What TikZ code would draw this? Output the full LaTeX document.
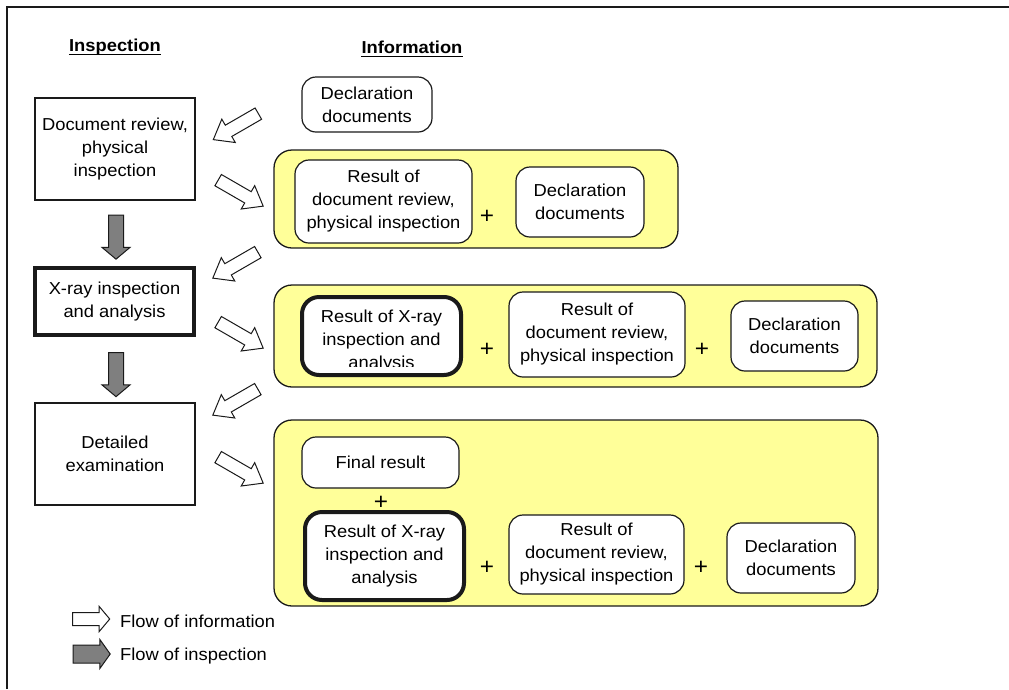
\documentclass[tikz,border=0pt]{standalone}
\usepackage{fontspec}
\setmainfont{Liberation Sans}[FakeStretch=1.06]
\usetikzlibrary{shapes.arrows}

\definecolor{yellowfill}{HTML}{FFFF99}
\definecolor{flowgray}{HTML}{7F7F7F}
\definecolor{linecol}{HTML}{1A1A1A}

% shaft thickness of a block arrow is set by an empty rule of that height
\newcommand{\shaft}[1]{\rule{0pt}{#1}}

\tikzset{
  txt/.style={font=\fontsize{17.3}{23}\selectfont, align=center},
  box/.style={draw=linecol, line width=1.2pt, fill=white, inner sep=0pt, txt},
  rbox/.style={box, rounded corners=14pt},
  heavybox/.style={box, line width=4pt},
  heavyrbox/.style={heavybox, rounded corners=17pt},
  group/.style={draw=linecol, line width=1.3pt, fill=yellowfill, rounded corners=18pt, inner sep=0pt},
  plus/.style={font=\fontsize{23}{23}\selectfont, inner sep=0pt},
  title/.style={font=\fontsize{17.3}{20}\selectfont\bfseries, inner sep=0pt},
  blockarrow/.style={single arrow, draw=linecol, line width=1pt, inner sep=0pt, outer sep=0pt},
  infoarrow/.style={blockarrow, fill=white,
    minimum height=52pt, single arrow head extend=7pt, single arrow tip angle=75},
  flowarrow/.style={blockarrow, fill=flowgray,
    minimum height=44pt, single arrow head extend=6.5pt, single arrow tip angle=100},
}

\begin{document}
\begin{tikzpicture}[x=1pt, y=-1pt]
\useasboundingbox (0,0) rectangle (1009,689);

% frame
\draw[line width=1.5pt, linecol] (7,689) -- (7,7) -- (1009,7);

% column titles
\node[title] (tInsp) at (115,47) {Inspection};
\node[title] (tInfo) at (412,47) {Information};
\draw[line width=1.3pt] ([yshift=-3pt]tInsp.base west) -- ([yshift=-3pt]tInsp.base east);
\draw[line width=1.3pt] ([yshift=-3pt]tInfo.base west) -- ([yshift=-3pt]tInfo.base east);

% inspection column
\node[box, minimum width=160pt, minimum height=102pt] (insp1) at (115,149)
  {Document review,\\physical\\inspection};
\node[heavybox, minimum width=159pt, minimum height=67pt] (insp2) at (114.5,301.5)
  {X-ray inspection\\and analysis};
\node[box, minimum width=160pt, minimum height=102pt] (insp3) at (115,454)
  {Detailed\\examination};

\node[flowarrow, rotate=-90] (fa1) at (116,234) {\shaft{14pt}};
\node[flowarrow, rotate=-90] (fa2) at (116,371.5) {\shaft{14pt}};

% information flow arrows
\node[infoarrow, rotate=210] (ia1) at (239.5,124.5) {\shaft{12pt}};
\node[infoarrow, rotate=-30] (ia2) at (237,191) {\shaft{12pt}};
\node[infoarrow, rotate=210] (ia3) at (239,263) {\shaft{12pt}};
\node[infoarrow, rotate=-30] (ia4) at (237,333) {\shaft{12pt}};
\node[infoarrow, rotate=210] (ia5) at (239,400) {\shaft{12pt}};
\node[infoarrow, rotate=-30] (ia6) at (237,468) {\shaft{12pt}};

% information column
\node[rbox, minimum width=130pt, minimum height=55pt] (decl0) at (367,104.5)
  {Declaration\\documents};

% stage 1
\node[group, minimum width=404pt, minimum height=98pt] (g1) at (476,199) {};
\node[rbox, minimum width=177pt, minimum height=83pt] (res1) at (383.5,201.5)
  {Result of\\document review,\\physical inspection};
\node[plus] (p1) at (487,217) {+};
\node[rbox, minimum width=128pt, minimum height=70pt] (decl1) at (580,202)
  {Declaration\\documents};

% stage 2
\node[group, minimum width=603pt, minimum height=102pt] (g2) at (575.5,336) {};
\node[heavyrbox, minimum width=159pt, minimum height=78pt] (xr2) at (381.5,336) {};
\begin{scope}
  \clip (300,296) rectangle (463,366);
  \node[txt, inner sep=0pt] (xr2t) at (381.5,341) {Result of X-ray\\inspection and\\analysis};
\end{scope}
\node[plus] (p2) at (487,350) {+};
\node[rbox, minimum width=176pt, minimum height=85pt] (res2) at (597,334.5)
  {Result of\\document review,\\physical inspection};
\node[plus] (p3) at (702,350) {+};
\node[rbox, minimum width=127pt, minimum height=70pt] (decl2) at (794.5,336)
  {Declaration\\documents};

% stage 3
\node[group, minimum width=604pt, minimum height=186pt] (g3) at (576,513) {};
\node[rbox, minimum width=157pt, minimum height=51pt] (final) at (380.5,462.5)
  {Final result};
\node[plus] (p4) at (381,503) {+};
\node[heavyrbox, minimum width=159pt, minimum height=88pt] (xr3) at (384.5,556)
  {Result of X-ray\\inspection and\\analysis};
\node[plus] (p5) at (487,568) {+};
\node[rbox, minimum width=175pt, minimum height=79pt] (res3) at (596.5,554.5)
  {Result of\\document review,\\physical inspection};
\node[plus] (p6) at (701,568) {+};
\node[rbox, minimum width=128pt, minimum height=70pt] (decl3) at (791,558)
  {Declaration\\documents};

% legend
\node[blockarrow, fill=white, minimum height=37pt, single arrow head extend=6pt,
  single arrow tip angle=100] (legI) at (88.5,619) {\shaft{12pt}};
\node[txt, anchor=west, inner sep=0pt] (legIt) at (120,621) {Flow of information};
\node[blockarrow, fill=flowgray, minimum height=37pt, single arrow head extend=5.5pt,
  single arrow tip angle=109] (legF) at (88.5,654) {\shaft{17pt}};
\node[txt, anchor=west, inner sep=0pt] (legFt) at (120,656) {Flow of inspection};
\end{tikzpicture}
\end{document}
